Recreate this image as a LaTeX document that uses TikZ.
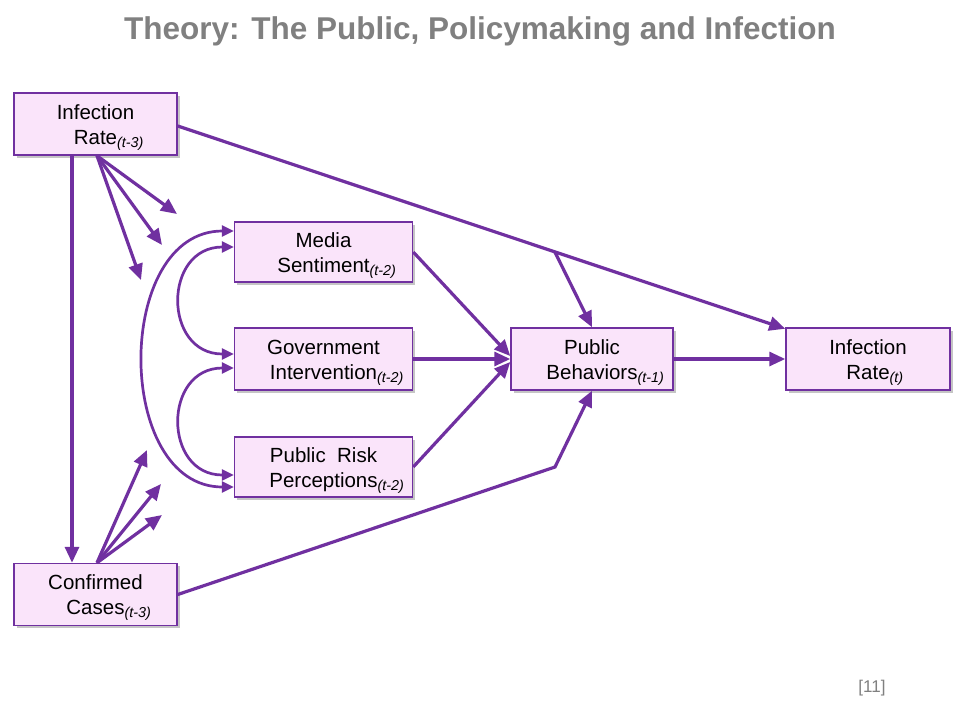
\documentclass[tikz,border=0pt]{standalone}
\usepackage{fontspec}
\setmainfont{Liberation Sans}
\usetikzlibrary{arrows.meta,shadows,calc}
\definecolor{pur}{RGB}{112,48,160}
\definecolor{boxfill}{RGB}{250,228,250}
\definecolor{titlegray}{RGB}{128,128,128}
\newcommand\tsub[1]{\rlap{\textsubscript{\itshape(#1)}}}
\newcommand\topstrut{\rule{0pt}{21.5pt}}
\begin{document}
\begin{tikzpicture}[x=1pt,y=-1pt,
 box/.style={draw=pur, line width=1.5pt, fill=boxfill, minimum width=163pt, minimum height=62pt,
   align=center, inner sep=0pt, font=\fontsize{20.5}{25}\selectfont,
   drop shadow={shadow xshift=2.5pt, shadow yshift=-2.5pt, fill=black!45}},
 conn/.style={draw=pur, line width=3.2pt},
 bigtip/.style={-{Triangle[length=16pt,width=14pt]}},
 smalltip/.style={{Triangle[length=12pt,width=11pt]}-{Triangle[length=12pt,width=11pt]}},
]
\useasboundingbox (0,0) rectangle (960,720);
\fill[white] (0,0) rectangle (960,720);

\node (title) at (480,31) {\fontsize{31.5}{36}\selectfont\bfseries\color{titlegray}Theory: The Public, Policymaking and Infection};
\node (pg) at (872,688) {\fontsize{17}{19}\selectfont\color{titlegray}[11]};

\node[box] (ir3) at (95.5,124) {\topstrut Infection\\Rate\tsub{t-3}};
\node[box] (cc) at (95.5,594.5) {\topstrut Confirmed\\Cases\tsub{t-3}};
\node[box, minimum width=178pt, minimum height=60pt] (ms) at (323.5,252) {\topstrut Media\\Sentiment\tsub{t-2}};
\node[box, minimum width=178pt] (gi) at (323.5,359) {\topstrut Government\\Intervention\tsub{t-2}};
\node[box, minimum width=178pt, minimum height=60pt] (prp) at (323.5,467) {\topstrut Public\ \ Risk\\Perceptions\tsub{t-2}};
\node[box, minimum width=162pt] (pb) at (592,359) {\topstrut Public\\Behaviors\tsub{t-1}};
\node[box, minimum width=164pt] (irt) at (868,359) {\topstrut Infection\\Rate\tsub{t}};

% vertical
\draw[conn,bigtip] ($(ir3.south)+(-23.5,0)$) -- ($(cc.north)+(-23.5,0)$);

% fans
\coordinate (fo1) at ($(ir3.south)+(1.5,0)$);
\coordinate (f1) at (177,214);
\coordinate (f2) at (162,245);
\coordinate (f3) at (141,280);
\draw[conn,bigtip] (fo1) -- (f1);
\draw[conn,bigtip] (fo1) -- (f2);
\draw[conn,bigtip] (fo1) -- (f3);
\coordinate (fo2) at ($(cc.north)+(1.5,0)$);
\coordinate (g1) at (147,450);
\coordinate (g2) at (161,484);
\coordinate (g3) at (162,515);
\draw[conn,bigtip] (fo2) -- (g1);
\draw[conn,bigtip] (fo2) -- (g2);
\draw[conn,bigtip] (fo2) -- (g3);

% long line IR3 -> IRt with branch
\coordinate (la) at ($(ir3.east)+(0,2)$);
\coordinate (lb) at ($(irt.north west)+(0,1.5)$);
\coordinate (br1) at ($(la)!0.6207!(lb)$);
\draw[conn,bigtip] (la) -- (lb);
\draw[conn,bigtip] (br1) -- (pb.north);

% CC -> PB
\coordinate (br2) at (555,467);
\draw[conn,bigtip] (cc.east) -- (br2) -- (pb.south);

% middle to PB
\draw[conn,bigtip] (ms.east) -- ($(pb.west)+(0,-3)$);
\draw[conn,bigtip] (gi.east) -- (pb.west);
\draw[conn,bigtip] (prp.east) -- ($(pb.west)+(0,3)$);
\draw[conn,bigtip] (pb.east) -- (irt.west);

% curved
\draw[conn,smalltip,line width=2.7pt] ($(ms.west)+(0,-5)$) .. controls +(-71,0) and +(-71,0) .. ($(gi.west)+(0,-5)$);
\draw[conn,smalltip,line width=2.7pt] ($(gi.west)+(0,9)$) .. controls +(-71,0) and +(-71,0) .. ($(prp.west)+(0,8)$);
\draw[conn,smalltip,line width=2.7pt] ($(ms.west)+(0,-21)$) .. controls +(-120,0) and +(-120,0) .. ($(prp.west)+(0,20)$);
\end{tikzpicture}
\end{document}
